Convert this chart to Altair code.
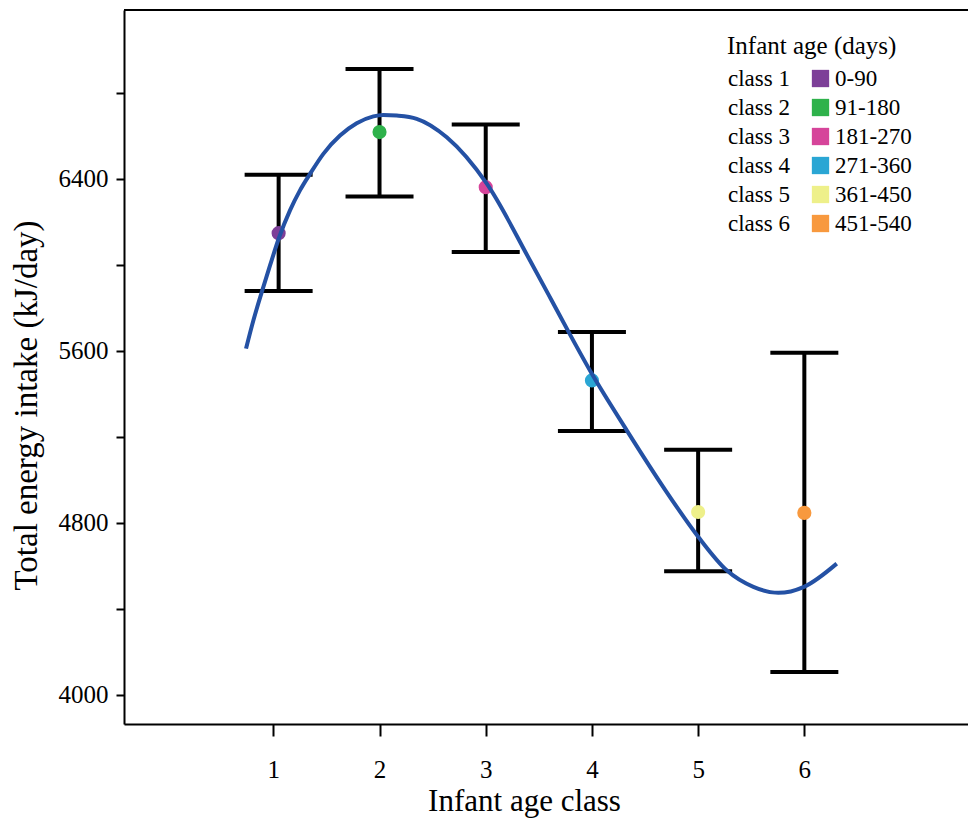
import altair as alt
import pandas as pd

# ---- data ----
classes = ["class 1", "class 2", "class 3", "class 4", "class 5", "class 6"]
age_ranges = ["0-90", "91-180", "181-270", "271-360", "361-450", "451-540"]
class_x = [1.05, 2, 3, 4, 5, 6]
mean_intake = [6147, 6617, 6361, 5462, 4850, 4846]
upper_ci = [6419, 6911, 6652, 5687, 5140, 5591]
lower_ci = [5878, 6318, 6059, 5227, 4575, 4106]
point_colors = ["#7D3F98", "#2EB24B", "#D6449A", "#2AA6D4", "#EEF08A", "#F8993E"]

curve_x = [0.743, 0.812, 0.891, 0.969, 1.056, 1.157, 1.251, 1.346, 1.471, 1.628,
           1.785, 1.942, 2.036, 2.162, 2.350, 2.633, 3.010, 3.417, 3.621, 3.794,
           3.998, 4.328, 4.672, 5.002, 5.269, 5.520, 5.755, 5.997, 6.305]
curve_y = [5610, 5741, 5873, 5997, 6129, 6253, 6346, 6423, 6516, 6601,
           6658, 6690, 6697, 6694, 6679, 6593, 6377, 6020, 5834, 5675,
           5494, 5230, 4966, 4734, 4579, 4502, 4474, 4502, 4610]

x_ticks = [1, 2, 3, 4, 5, 6]
y_ticks = [4000, 4400, 4800, 5200, 5600, 6000, 6400, 6800]
legend_title = "Infant age (days)"

FONT = "Liberation Serif"
W, H = 844, 714

df = pd.DataFrame({
    "cls": classes, "rng": age_ranges, "x": class_x,
    "mean": mean_intake, "hi": upper_ci, "lo": lower_ci,
})
curve = pd.DataFrame({"x": curve_x, "y": curve_y})

xscale = alt.Scale(domain=[-0.406, 7.541], nice=False, zero=False)
yscale = alt.Scale(domain=[3864, 7185], nice=False, zero=False)

xaxis = alt.Axis(
    values=x_ticks, format="d", title="Infant age class", grid=False,
    domainColor="black", domainWidth=2, tickColor="black", tickWidth=2,
    tickSize=12, labelPadding=21, labelFont=FONT, labelFontSize=25,
    labelColor="black", labelFlush=False,
    titleFont=FONT, titleFontSize=31, titleFontWeight="normal", titleColor="black",
    titleX=400, titleY=86, titleBaseline="alphabetic", titleAlign="center",
)
yaxis = alt.Axis(
    values=y_ticks, labelExpr="datum.value % 800 == 0 ? format(datum.value, 'd') : ''",
    title="Total energy intake (kJ/day)", grid=False,
    domainColor="black", domainWidth=2, tickColor="black", tickWidth=2,
    tickSize=8, labelPadding=8, labelFont=FONT, labelFontSize=25,
    labelColor="black", labelFlush=False,
    titleFont=FONT, titleFontSize=33, titleFontWeight="normal", titleColor="black",
    titleAngle=270, titleX=-88, titleY=395, titleBaseline="alphabetic", titleAlign="center",
)

base = alt.Chart(df)

bars = base.mark_rule(color="black", strokeWidth=4).encode(
    x=alt.X("x:Q", scale=xscale, axis=xaxis),
    y=alt.Y("lo:Q", scale=yscale, axis=yaxis),
    y2="hi:Q",
)
cap_hi = base.mark_tick(color="black", orient="horizontal", size=68, thickness=4, opacity=1).encode(
    x="x:Q", y="hi:Q")
cap_lo = base.mark_tick(color="black", orient="horizontal", size=68, thickness=4, opacity=1).encode(
    x="x:Q", y="lo:Q")

points = base.mark_point(filled=True, size=200, opacity=1).encode(
    x="x:Q",
    y="mean:Q",
    color=alt.Color("rng:N", scale=alt.Scale(domain=age_ranges, range=point_colors),
                    legend=alt.Legend(
                        title=None, orient="none", legendX=685, legendY=57,
                        symbolType="square", symbolSize=300, symbolStrokeWidth=0,
                        symbolOpacity=1, labelOffset=3, rowPadding=5, padding=0,
                        labelFont=FONT, labelFontSize=23, labelColor="black")),
    shape=alt.Shape("cls:N", scale=alt.Scale(domain=classes, range=["circle"] * 6),
                    legend=alt.Legend(
                        title=None, orient="none", legendX=581, legendY=57,
                        symbolSize=0, symbolOpacity=0, symbolStrokeWidth=0,
                        labelOffset=0, rowPadding=5, padding=0,
                        labelFont=FONT, labelFontSize=23, labelColor="black")),
)

line = alt.Chart(curve).mark_line(color="#2451A4", strokeWidth=4, interpolate="monotone").encode(
    x="x:Q", y="y:Q")

top_frame = alt.Chart(df).mark_rule(color="black", strokeWidth=2).encode(
    x=alt.value(0), x2=alt.value(W), y=alt.value(0))

chart = alt.layer(bars, cap_hi, cap_lo, points, line, top_frame).resolve_legend(
    color="independent", shape="independent"
).properties(
    width=W, height=H,
    title=alt.TitleParams(text=legend_title, anchor="start", frame="group", orient="top",
                          offset=0, dx=603, dy=70, baseline="alphabetic",
                          font=FONT, fontSize=25, fontWeight="normal", color="black"),
    autosize=alt.AutoSizeParams(type="none"),
    padding={"left": 116, "top": 2, "right": 0, "bottom": 100},
).configure_view(stroke=None).configure(background="white")

chart.save("out.html", embed_options={"renderer": "svg", "actions": False})
